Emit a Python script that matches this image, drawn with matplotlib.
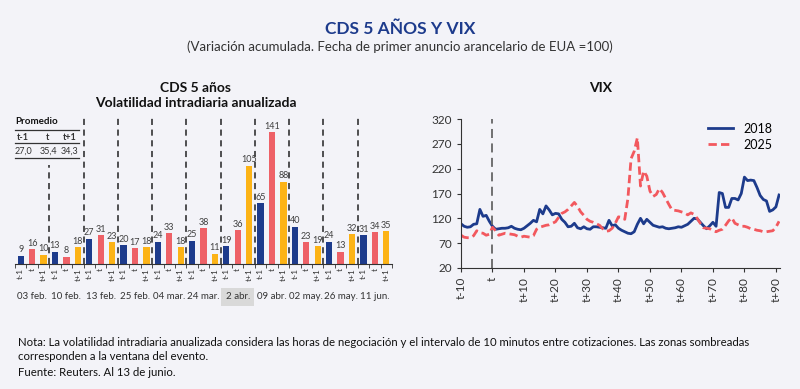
import matplotlib.pyplot as plt
import matplotlib.transforms as mtransforms
from matplotlib.lines import Line2D

plt.rcParams["font.family"] = ["Lato", "DejaVu Sans"]

# --- datos ---
fechas = ["03 feb.", "10 feb.", "13 feb.", "25 feb.", "04 mar.", "24 mar.",
          "2 abr.", "09 abr.", "02 may.", "26 may.", "11 jun."]
cds_t_menos_1 = [9, 13, 27, 20, 24, 25, 19, 65, 40, 24, 31]
cds_t = [16, 8, 31, 17, 33, 38, 36, 141, 23, 13, 34]
cds_t_mas_1 = [10, 18, 23, 18, 18, 11, 105, 88, 19, 32, 35]
etiquetas_barra = ["t-1", "t", "t+1"]
promedio = ["27,0", "35,4", "34,3"]

dias = list(range(-10, 92))
vix_2018 = [109, 104, 102, 103, 108, 109, 138, 124, 126, 114,
            104, 98, 99, 100, 100, 101, 104, 100, 98, 97,
            100, 105, 110, 116, 113, 138, 129, 145, 137, 127,
            130, 129, 118, 112, 103, 104, 110, 101, 99, 103,
            99, 98, 103, 103, 102, 101, 100, 116, 105, 107,
            100, 96, 93, 90, 89, 93, 108, 120, 109, 118,
            112, 106, 104, 102, 103, 100, 99, 100, 101, 103,
            102, 105, 108, 114, 120, 119, 112, 105, 99, 105,
            112, 104, 172, 170, 142, 142, 160, 160, 157, 170,
            203, 196, 197, 196, 182, 166, 158, 155, 134, 137,
            143, 167]
vix_2025 = [86, 82, 81, 81, 85, 95, 91, 90, 86, 88,
            102, 95, 86, 88, 90, 89, 88, 87, 84, 82,
            84, 83, 82, 85, 98, 102, 104, 106, 107, 110,
            113, 122, 130, 133, 138, 145, 152, 144, 133, 126,
            118, 114, 112, 109, 106, 99, 94, 95, 100, 110,
            123, 122, 118, 160, 240, 255, 282, 185, 215, 205,
            175, 164, 168, 180, 172, 160, 148, 137, 136, 135,
            133, 131, 127, 131, 128, 120, 110, 101, 100, 99,
            95, 93, 96, 98, 106, 115, 121, 110, 107, 104,
            104, 102, 99, 98, 96, 95, 93, 93, 94, 95,
            102, 114]
ticks_vix = list(range(-10, 91, 10))
etiquetas_vix = ["t-10", "t", "t+10", "t+20", "t+30", "t+40",
                 "t+50", "t+60", "t+70", "t+80", "t+90"]

FONDO = "#F3F3F8"
AZUL = "#1D3B8C"
SALMON = "#EE6167"
NARANJA = "#FCB316"
ROJO = "#F2585E"
TEXTO = "#333333"

W, H = 800, 389


def fx(px):
    return px / W


def fy(py):
    return 1 - py / H


fig = plt.figure(figsize=(8, 3.89), dpi=100, facecolor=FONDO)

fig.text(0.5, fy(29), "CDS 5 AÑOS Y VIX", ha="center", va="center",
         fontsize=12.5, fontweight="bold", color=AZUL)
fig.text(0.5, fy(47), "(Variación acumulada. Fecha de primer anuncio arancelario de EUA =100)",
         ha="center", va="center", fontsize=9.5, color=TEXTO)
fig.text(fx(196), fy(88), "CDS 5 años", ha="center", va="center",
         fontsize=10, fontweight="bold", color="#111111")
fig.text(fx(196), fy(103), "Volatilidad intradiaria anualizada", ha="center", va="center",
         fontsize=10, fontweight="bold", color="#111111")
fig.text(fx(601), fy(88), "VIX", ha="center", va="center",
         fontsize=10, fontweight="bold", color="#111111")

# --- barras CDS ---
ax1 = fig.add_axes([fx(15), fy(264), fx(392) - fx(15), fy(118) - fy(264)])
ax1.set_facecolor(FONDO)
n = len(fechas)
base = [3 * i for i in range(n)]
series = [(cds_t_menos_1, AZUL), (cds_t, SALMON), (cds_t_mas_1, NARANJA)]
for k, (vals, col) in enumerate(series):
    barras = ax1.bar([b + k for b in base], vals, width=0.55, color=col)
    ax1.bar_label(barras, padding=1, fontsize=6.5, color="#404040")

ax1.set_xlim(-0.5, 3 * n - 0.5)
ax1.set_ylim(0, 156)
ax1.set_yticks([])
for s in ["left", "top", "right"]:
    ax1.spines[s].set_visible(False)
ax1.spines["bottom"].set_color("#333333")
ax1.set_xticks(range(3 * n))
ax1.set_xticklabels(etiquetas_barra * n, rotation=90, fontsize=6, color=TEXTO)
ax1.tick_params(axis="x", which="major", length=0, pad=3)
ax1.set_xticks([k + 0.5 for k in range(-1, 3 * n)], minor=True)
ax1.tick_params(axis="x", which="minor", length=3, color="#333333")

for i in range(1, n):
    tope = 0.678 if i == 1 else 1.0
    ax1.axvline(3 * i - 0.5, ymin=0, ymax=tope, color="#222222", lw=1.1, ls=(0, (4, 3)))

trans = mtransforms.blended_transform_factory(ax1.transData, ax1.transAxes)
for i, f in enumerate(fechas):
    caja = None
    if f == "2 abr.":
        caja = dict(facecolor="#D9D9D9", edgecolor="none", pad=3)
    ax1.text(3 * i + 1, -0.226, f, transform=trans, ha="center", va="center",
             fontsize=7, color=TEXTO, bbox=caja)

# tabla de promedio
fig.text(fx(15), fy(122), "Promedio", ha="left", va="center", fontsize=7, fontweight="bold", color="#111111")
for yl in [130, 143, 158]:
    fig.add_artist(Line2D([fx(15), fx(79)], [fy(yl), fy(yl)], color="#333333", lw=0.9))
for xc, et, val in zip([23, 48, 70], etiquetas_barra, promedio):
    fig.text(fx(xc), fy(137), et, ha="center", va="center", fontsize=6.5, fontweight="bold", color=TEXTO)
    fig.text(fx(xc), fy(151), val, ha="center", va="center", fontsize=6.5, color=TEXTO)

# --- VIX ---
ax2 = fig.add_axes([fx(461), fy(268), fx(780) - fx(461), fy(119) - fy(268)])
ax2.set_facecolor(FONDO)
ax2.plot(dias, vix_2018, color=AZUL, lw=2, label="2018")
ax2.plot(dias, vix_2025, color=ROJO, lw=2, ls=(0, (3, 1.5)), label="2025")
ax2.axvline(0, color="#666666", lw=1.3, ls=(0, (5, 3)))
ax2.set_xlim(-10, 91.3)
ax2.set_ylim(20, 320)
ax2.set_yticks(range(20, 321, 50))
ax2.set_xticks(ticks_vix)
ax2.set_xticklabels(etiquetas_vix, rotation=90)
ax2.tick_params(labelsize=8.5, labelcolor=TEXTO, length=3, color="#333333")
for s in ["top", "right"]:
    ax2.spines[s].set_visible(False)
for s in ["left", "bottom"]:
    ax2.spines[s].set_color("#333333")
ax2.legend(loc="upper left", bbox_to_anchor=(0.74, 1.05), frameon=False,
           fontsize=9, handlelength=2, labelspacing=0.3)

# --- notas ---
fig.text(fx(18), fy(343), "Nota: La volatilidad intradiaria anualizada considera las horas de negociación y el intervalo "
         "de 10 minutos entre cotizaciones. Las zonas sombreadas", ha="left", va="center", fontsize=8.2, color="#111111")
fig.text(fx(18), fy(357), "corresponden a la ventana del evento.", ha="left", va="center", fontsize=8.2, color="#111111")
fig.text(fx(18), fy(372), "Fuente: Reuters. Al 13 de junio.", ha="left", va="center", fontsize=8.2, color="#111111")

fig.savefig("out.png", dpi=100, facecolor=FONDO)
